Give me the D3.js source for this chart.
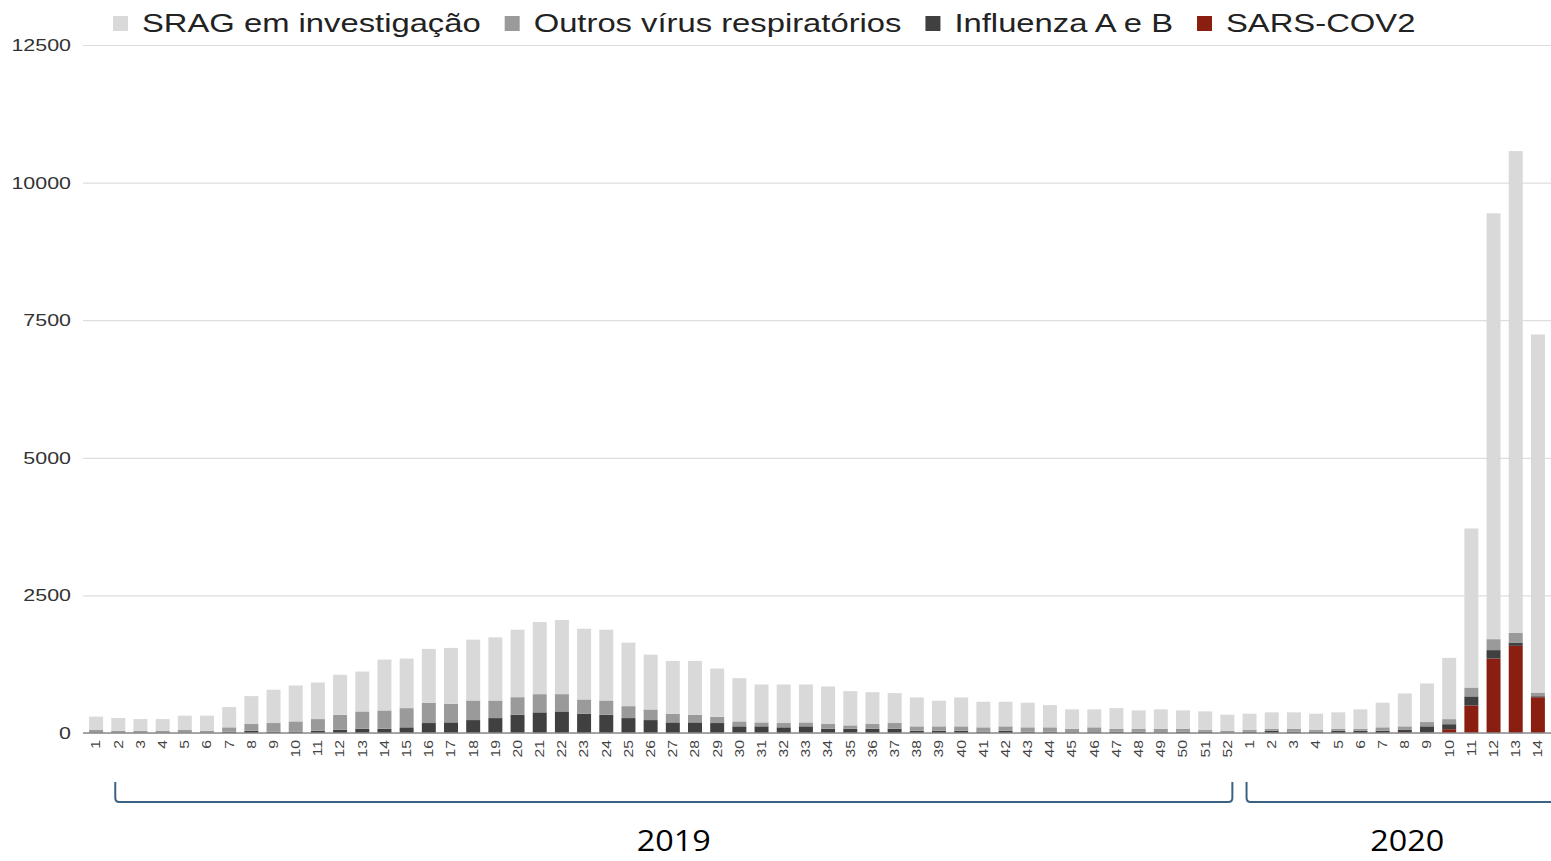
<!DOCTYPE html>
<html>
<head>
<meta charset="utf-8">
<script src="https://cdn.jsdelivr.net/npm/d3@7"></script>
<style>
  body { margin: 0; background: #fff; }
  svg { display: block; font-family: "Liberation Sans", Arial, sans-serif; }
</style>
</head>
<body>
<div class="chart"></div>
<script>
var svgWidth = 1551;
var svgHeight = 861;

// Data (semanas epidemiológicas 2019 e 2020)
var weeks2019 = [1,2,3,4,5,6,7,8,9,10,11,12,13,14,15,16,17,18,19,20,21,22,23,24,25,26,
  27,28,29,30,31,32,33,34,35,36,37,38,39,40,41,42,43,44,45,46,47,48,49,50,51,52];
var weeks2020 = [1,2,3,4,5,6,7,8,9,10,11,12,13,14];
var years = ["2019", "2020"];

var seriesNames = ["SRAG em investigação", "Outros vírus respiratórios", "Influenza A e B", "SARS-COV2"];

var sarsCov2 = [0,0,0,0,0,0,0,0,0,0,0,0,0,0,0,0,0,0,0,0,0,0,0,0,0,0,
  0,0,0,0,0,0,0,0,0,0,0,0,0,0,0,0,0,0,0,0,0,0,0,0,0,0,
  0,0,0,0,0,0,0,15,10,69,497,1353,1583,650];
var influenza = [10,8,8,8,10,8,24,42,24,24,42,60,78,78,103,181,193,235,271,332,375,392,350,332,271,235,
  193,193,181,121,121,103,121,78,78,78,78,42,42,42,24,42,24,24,12,15,24,24,12,24,24,5,
  24,42,24,24,42,42,42,47,111,91,168,153,61,18];
var outrosVirus = [50,34,34,34,50,34,79,121,157,187,211,272,314,332,349,368,338,356,320,319,331,314,260,259,217,193,
  157,139,114,90,72,78,72,85,61,85,103,79,79,79,79,79,79,79,66,88,54,54,66,54,36,37,
  36,36,54,36,36,36,61,59,78,92,161,199,176,67];
var sragInvestigacao = [237,230,211,211,255,273,368,507,605,652,665,725,725,924,900,979,1015,1105,1147,1226,1310,1347,1285,1286,1154,996,
  960,978,876,785,688,700,688,682,621,579,543,525,465,525,465,447,447,404,351,326,374,333,351,333,333,291,
  291,297,297,291,297,351,447,598,701,1113,2890,7737,8753,6505];

var yTicks = [0, 2500, 5000, 7500, 10000, 12500];

var colors = {
  srag: "#d9d9d9",
  outros: "#9a9a9a",
  flu: "#404040",
  sars: "#8a1f11"
};

// build rows
var rows = [];
weeks2019.forEach(function (w) { rows.push({ year: "2019", week: w }); });
weeks2020.forEach(function (w) { rows.push({ year: "2020", week: w }); });
rows.forEach(function (d, i) {
  d.key = d.year + "-" + d.week;
  d.sars = sarsCov2[i];
  d.flu = influenza[i];
  d.outros = outrosVirus[i];
  d.srag = sragInvestigacao[i];
});

var stretch = 1.26; // the original picture is widened horizontally

var plotLeft = 85, plotRight = 1549, plotTop = 45, plotBottom = 733;

var svg = d3.select(".chart")
  .append("svg")
  .attr("width", svgWidth)
  .attr("height", svgHeight);

var x = d3.scaleBand()
  .domain(rows.map(d => d.key))
  .range([plotLeft, plotRight])
  .paddingInner(0.37)
  .paddingOuter(0.185);

var y = d3.scaleLinear()
  .domain([0, 12500])
  .range([plotBottom, plotTop]);

function widen(sel, f) {
  sel.each(function () {
    var n = this.getComputedTextLength();
    d3.select(this).attr("textLength", n * (f || stretch)).attr("lengthAdjust", "spacingAndGlyphs");
  });
}

// gridlines + y labels
var leftAxis = d3.axisLeft(y)
  .tickValues(yTicks)
  .tickFormat(d3.format("d"))
  .tickSize(-(svgWidth - 83))
  .tickPadding(12);
var yG = svg.append("g")
  .attr("transform", "translate(83,0)")
  .call(leftAxis);
yG.select(".domain").remove();
yG.selectAll(".tick line").attr("stroke", "#dedede").attr("stroke-width", 1.2);
yG.selectAll(".tick text")
  .attr("fill", "#333")
  .style("font-size", "17px")
  .call(widen);

// stacked bars
var stack = d3.stack().keys(["sars", "flu", "outros", "srag"]);
var layers = stack(rows);

svg.append("g").selectAll("g")
  .data(layers)
  .enter()
  .append("g")
  .attr("fill", d => colors[d.key])
  .selectAll("rect")
  .data(d => d)
  .enter()
  .append("rect")
  .attr("x", d => x(d.data.key))
  .attr("y", d => y(d[1]))
  .attr("width", x.bandwidth())
  .attr("height", d => Math.max(0, y(d[0]) - y(d[1])));

// baseline
svg.append("line")
  .attr("x1", 83).attr("x2", svgWidth)
  .attr("y1", y(0)).attr("y2", y(0))
  .attr("stroke", "#8c8c8c").attr("stroke-width", 1.5);

// x axis labels
var bottomAxis = d3.axisBottom(x).tickSize(0).tickFormat(function (k) { return k.split("-")[1]; });
var xG = svg.append("g")
  .attr("transform", `translate(0, ${plotBottom})`)
  .call(bottomAxis);
xG.select(".domain").remove();
xG.selectAll(".tick text")
  .attr("transform", "rotate(-90)")
  .attr("x", -7)
  .attr("y", 0)
  .attr("dy", "0.35em")
  .attr("text-anchor", "end")
  .attr("fill", "#444")
  .style("font-size", "12.5px")
  .call(widen);

// legend
var legendKeys = ["srag", "outros", "flu", "sars"];
var lx = 113;
legendKeys.forEach(function (k, i) {
  svg.append("rect")
    .attr("x", lx).attr("y", 16)
    .attr("width", 15).attr("height", 15)
    .attr("fill", colors[k]);
  var t = svg.append("text")
    .attr("x", lx + 29).attr("y", 32)
    .attr("fill", "#222")
    .style("font-size", "26px")
    .text(seriesNames[i]);
  var n = t.node().getComputedTextLength() * stretch;
  t.attr("textLength", n).attr("lengthAdjust", "spacingAndGlyphs");
  lx = lx + 29 + n + 24;
});

// year brackets
var bracketColor = "#3b6282";
var c = k => x(k) + x.bandwidth() / 2;
var b1L = c("2019-2") - 3, b1R = c("2019-52") + 5;
var b2L = c("2020-1") - 3, b2R = svgWidth + 2;
var bTop = 782, bBot = 802;

svg.append("path")
  .attr("d", `M${b1L},${bTop} L${b1L},${bBot - 4} Q${b1L},${bBot} ${b1L + 4},${bBot} L${b1R - 4},${bBot} Q${b1R},${bBot} ${b1R},${bBot - 4} L${b1R},${bTop}`)
  .attr("fill", "none").attr("stroke", bracketColor).attr("stroke-width", 2);
svg.append("path")
  .attr("d", `M${b2L},${bTop} L${b2L},${bBot - 4} Q${b2L},${bBot} ${b2L + 4},${bBot} L${b2R},${bBot}`)
  .attr("fill", "none").attr("stroke", bracketColor).attr("stroke-width", 2);

var yearPos = [(b1L + b1R) / 2, (b2L + c("2020-14") + 30) / 2];
years.forEach(function (yr, i) {
  svg.append("text")
    .attr("x", yearPos[i]).attr("y", 851)
    .attr("text-anchor", "middle")
    .attr("fill", "#000")
    .attr("textLength", 74)
    .attr("lengthAdjust", "spacingAndGlyphs")
    .style("font-family", "'Open Sans', 'Noto Sans', sans-serif")
    .style("font-size", "29px")
    .text(yr);
});
</script>
</body>
</html>
